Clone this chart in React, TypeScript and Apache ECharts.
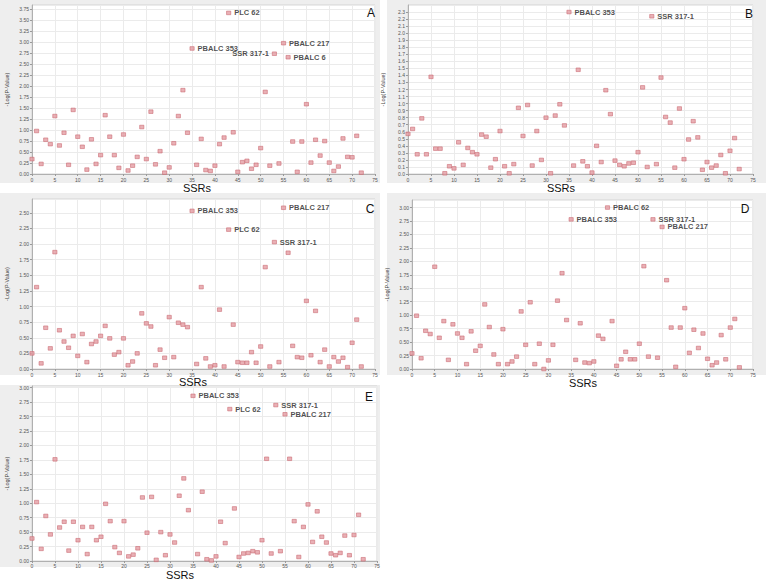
import React, { useEffect, useRef } from "react";
import * as echarts from "echarts";

// -Log(P-Value) per SSR (index 0..72)
const valuesA = [0.34,0.98,0.23,0.78,0.68,1.32,0.65,0.94,0.21,1.46,0.85,0.62,0.10,0.79,0.23,0.43,1.34,0.85,0.43,0.14,0.90,0.08,0.19,0.39,1.07,0.34,1.42,0.22,0.52,0.03,0.15,0.70,1.32,1.91,0.94,2.86,0.21,0.80,0.09,0.07,0.19,0.68,0.83,3.67,0.95,0.05,0.27,0.30,0.12,0.21,0.59,1.87,0.19,2.74,0.24,2.98,2.66,0.74,0.05,0.74,1.59,0.26,0.78,0.42,0.75,0.26,0.07,0.17,0.81,0.39,0.38,0.87,0.03];
const valuesB = [0.57,0.64,0.28,0.79,0.28,1.38,0.36,0.36,0.01,0.11,0.08,0.45,0.13,0.37,0.31,0.28,0.56,0.53,0.09,0.21,0.61,0.11,0.01,0.14,0.94,0.54,0.98,0.12,0.61,0.20,0.80,0.01,0.83,0.99,0.69,2.30,0.12,1.48,0.18,0.11,0.02,0.40,0.17,1.19,0.85,0.19,0.13,0.11,0.15,0.16,0.31,1.23,0.10,2.24,0.14,1.37,0.81,0.73,0.09,0.93,0.21,0.49,0.75,0.52,0.06,0.17,0.09,0.12,0.27,0.01,0.33,0.51,0.07];
const valuesC = [0.25,1.31,0.09,0.66,0.33,1.87,0.62,0.44,0.34,0.53,0.21,0.56,0.11,0.40,0.44,0.53,0.69,0.49,0.23,0.27,0.49,0.06,0.12,0.25,0.89,0.73,0.68,0.06,0.31,0.18,0.83,0.19,0.74,0.71,0.67,2.53,0.08,1.31,0.17,0.04,0.06,0.95,0.04,2.23,0.71,0.11,0.10,0.10,0.27,0.10,0.36,1.63,0.04,2.03,0.11,2.58,1.86,0.37,0.19,0.18,1.09,0.22,0.93,0.11,0.31,0.04,0.19,0.12,0.18,0.03,0.42,0.79,0.04];
const valuesD = [0.29,0.99,0.20,0.71,0.65,1.90,0.58,0.89,0.17,0.83,0.66,0.58,0.09,0.70,0.34,0.43,1.20,0.78,0.27,0.09,0.74,0.09,0.14,0.23,1.07,0.45,1.24,0.09,0.47,0.00,0.16,0.45,1.27,1.78,0.91,2.78,0.17,0.85,0.12,0.11,0.14,0.62,0.56,3.00,0.89,0.06,0.18,0.32,0.18,0.18,0.47,1.91,0.23,2.78,0.21,2.64,1.65,0.77,0.04,0.77,1.13,0.30,0.73,0.39,0.66,0.19,0.07,0.12,0.63,0.18,0.77,0.93,0.03];
const valuesE = [0.39,1.02,0.21,0.78,0.46,1.76,0.58,0.68,0.18,0.68,0.36,0.59,0.12,0.59,0.36,0.42,0.99,0.69,0.24,0.14,0.69,0.08,0.11,0.22,1.10,0.49,1.11,0.02,0.50,0.10,0.46,0.32,1.13,1.43,0.88,2.86,0.12,1.20,0.03,0.01,0.08,0.68,0.31,2.63,0.91,0.07,0.13,0.14,0.17,0.15,0.36,1.77,0.13,2.70,0.17,2.54,1.77,0.69,0.07,0.59,0.98,0.33,0.86,0.42,0.32,0.13,0.10,0.14,0.44,0.10,0.45,0.80,0.03];

// named SSRs (index -> name)
const namesA: Record<number, string> = { 35: "PBALC 353", 43: "PLC 62", 53: "SSR 317-1", 55: "PBALC 217", 56: "PBALC 6" };
const namesB: Record<number, string> = { 35: "PBALC 353", 53: "SSR 317-1" };
const namesC: Record<number, string> = { 35: "PBALC 353", 43: "PLC 62", 53: "SSR 317-1", 55: "PBALC 217" };
const namesD: Record<number, string> = { 35: "PBALC 353", 43: "PBALC 62", 53: "SSR 317-1", 55: "PBALC 217" };
const namesE: Record<number, string> = { 35: "PBALC 353", 43: "PLC 62", 53: "SSR 317-1", 55: "PBALC 217" };

const panelLetters = ["A", "B", "C", "D", "E"];
const xAxisTitle = "SSRs";
const yAxisTitle = "-Log(P-Value)";

const FONT = "Liberation Sans, Arial, sans-serif";

export default function App() {
  const ref = useRef<HTMLDivElement>(null);
  useEffect(() => {
    if (!ref.current) return;
    const chart = echarts.init(ref.current, null, { renderer: "svg" });

    const panels = [
      { values: valuesA, names: namesA, yMax: 3.85, step: 0.25, digits: 2, grid: { left: 32, top: 5, width: 343, height: 169 }, frame: [0, 0, 380, 183], letter: [371, 13], title: [197, 188], labelMargin: 3, leftLabels: [53] },
      { values: valuesB, names: namesB, yMax: 2.4, step: 0.1, digits: 1, grid: { left: 408, top: 5, width: 345, height: 169 }, frame: [387, 0, 379, 183], letter: [749, 14], title: [561, 188], labelMargin: 3, leftLabels: [] as number[] },
      { values: valuesC, names: namesC, yMax: 2.72, step: 0.25, digits: 2, grid: { left: 32, top: 199, width: 343, height: 170 }, frame: [0, 193, 380, 182], letter: [370, 209], title: [193, 382], labelMargin: 3, leftLabels: [] as number[] },
      { values: valuesD, names: namesD, yMax: 3.14, step: 0.25, digits: 2, grid: { left: 412, top: 200, width: 341, height: 169 }, frame: [387, 193, 379, 182], letter: [745, 209], title: [583, 383], labelMargin: 3, leftLabels: [] as number[] },
      { values: valuesE, names: namesE, yMax: 3.03, step: 0.25, digits: 2, grid: { left: 32, top: 386, width: 345, height: 175 }, frame: [0, 385, 380, 182], letter: [369, 397], title: [180, 575], labelMargin: 2, leftLabels: [] as number[] },
    ];

    const grids: any[] = [];
    const xAxes: any[] = [];
    const yAxes: any[] = [];
    const series: any[] = [];
    const graphics: any[] = [];

    panels.forEach((p, k) => {
      grids.push({ ...p.grid, show: true, backgroundColor: "#ffffff", borderColor: "#d4d4d4", borderWidth: 1, containLabel: false });
      xAxes.push({
        type: "value", gridIndex: k, min: 0, max: 75, interval: 5,
        axisLine: { show: true, lineStyle: { color: "#b0b0b0", width: 1 } },
        axisTick: { show: true, length: 2, lineStyle: { color: "#999" } },
        axisLabel: { fontSize: 5, color: "#555", margin: p.labelMargin, fontFamily: FONT },
        splitLine: { show: true, lineStyle: { color: "#ebebeb", width: 1 } },
      });
      yAxes.push({
        type: "value", gridIndex: k, min: 0, max: p.yMax, interval: p.step,
        name: yAxisTitle, nameLocation: "middle", nameRotate: 90, nameGap: 22,
        nameTextStyle: { fontSize: 5.5, color: "#444", fontFamily: FONT },
        axisLine: { show: true, lineStyle: { color: "#b0b0b0", width: 1 } },
        axisTick: { show: true, length: 2, lineStyle: { color: "#999" } },
        axisLabel: { fontSize: 5, color: "#555", margin: 3, fontFamily: FONT, showMaxLabel: false,
          formatter: (v: number) => v.toFixed(p.digits) },
        splitLine: { show: true, lineStyle: { color: "#ebebeb", width: 1 } },
      });
      series.push({
        type: "scatter", xAxisIndex: k, yAxisIndex: k,
        symbol: "rect", symbolSize: [4.2, 3.6],
        itemStyle: { color: "#e49ca2", borderColor: "#c9666f", borderWidth: 0.7 },
        data: p.values.map((v, i) => {
          const nm = p.names[i];
          if (!nm) return [i, v];
          return {
            value: [i, v], name: nm,
            label: {
              show: true, formatter: nm,
              position: p.leftLabels.includes(i) ? "left" : "right",
              distance: 3, fontSize: 7.5, fontWeight: "bold", color: "#1e1e1e", fontFamily: FONT,
            },
          };
        }),
      });
      const [fx, fy, fw, fh] = p.frame;
      graphics.push({ type: "rect", z: -10, shape: { x: fx, y: fy, width: fw, height: fh }, style: { fill: "#eeeeee" } });
      graphics.push({ type: "text", z: 100, x: p.letter[0], y: p.letter[1], style: { text: panelLetters[k], fontSize: 12, fill: "#111", fontFamily: FONT, align: "center", verticalAlign: "middle" } });
      graphics.push({ type: "text", z: 100, x: p.title[0], y: p.title[1], style: { text: xAxisTitle, fontSize: 11, fill: "#111", fontFamily: FONT, align: "center", verticalAlign: "middle" } });
    });

    chart.setOption({
      animation: false,
      backgroundColor: "#ffffff",
      grid: grids,
      xAxis: xAxes,
      yAxis: yAxes,
      series,
      graphic: graphics,
    });
    return () => chart.dispose();
  }, []);

  return <div ref={ref} style={{ position: "fixed", left: 0, top: 0, width: 766, height: 580 }} />;
}
